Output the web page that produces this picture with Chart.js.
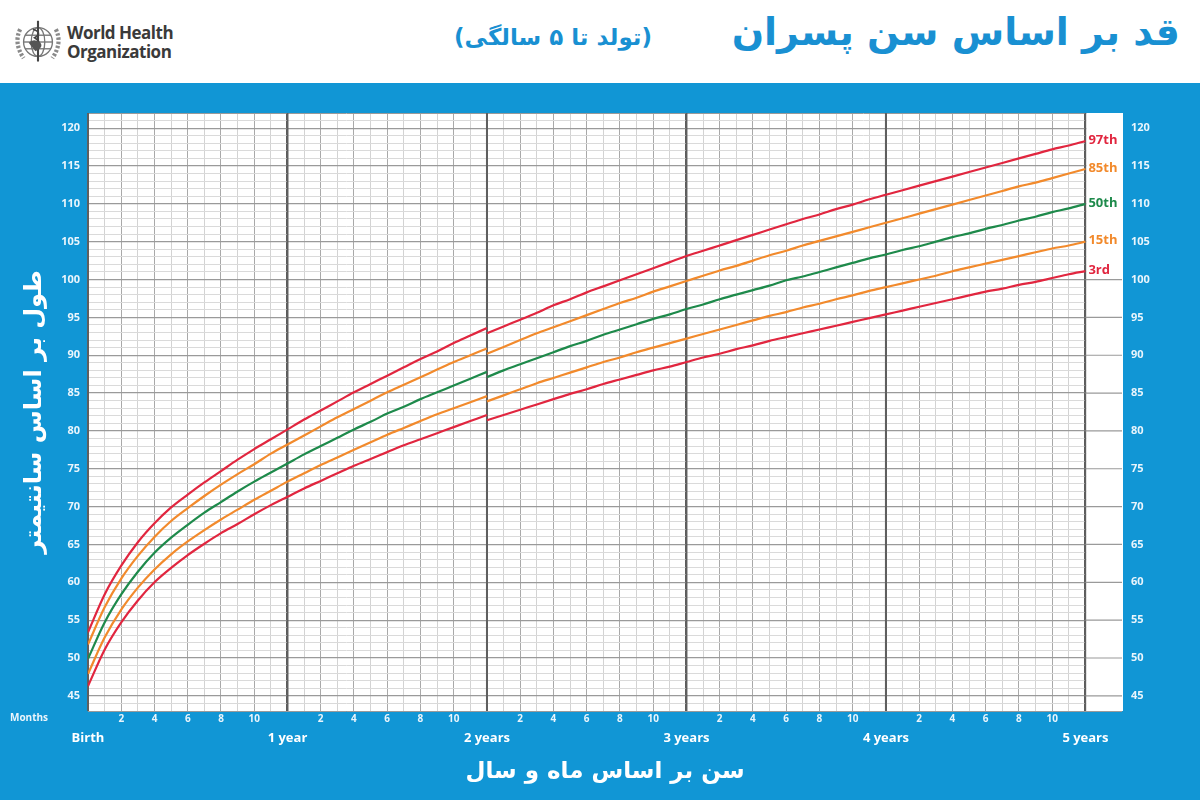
<!DOCTYPE html>
<html>
<head>
<meta charset="utf-8">
<script src="https://cdn.jsdelivr.net/npm/chart.js@4/dist/chart.umd.min.js"></script>
<style>
    html, body { margin: 0; padding: 0; }
    body { width: 1200px; height: 800px; overflow: hidden; background: #fff; }
    .header { position: relative; height: 83px; background: #fff; }
    .logo { position: absolute; left: 10px; top: 15px; }
    .who-name { position: absolute; left: 67px; top: 23px; font: bold 17px/19px 'Open Sans', sans-serif; color: #3a3a3a; letter-spacing: -0.5px; }
    .title { position: absolute; right: 20px; top: 10px; direction: rtl; font: bold 38px 'DejaVu Sans', sans-serif; color: #1990d2; }
    .subtitle { position: absolute; right: 548px; top: 24px; direction: rtl; font: bold 23px 'DejaVu Sans', sans-serif; color: #1990d2; }
    .panel { height: 717px; background: #1196d5; }
    canvas { display: block; }
</style>
</head>
<body>
<div class="header">
    <svg class="logo" width="56" height="54" viewBox="0 0 66 58">
        <g fill="none" stroke="#777" stroke-width="1.6">
            <circle cx="33" cy="29" r="17"/>
            <ellipse cx="33" cy="29" rx="8" ry="17"/>
            <line x1="16" y1="29" x2="50" y2="29"/>
            <line x1="18" y1="21" x2="48" y2="21"/>
            <line x1="18" y1="37" x2="48" y2="37"/>
            <path d="M12 14 Q4 30 16 48" stroke-width="5" stroke="#8a8a8a" stroke-dasharray="3 2"/>
            <path d="M54 14 Q62 30 50 48" stroke-width="5" stroke="#8a8a8a" stroke-dasharray="3 2"/>
        </g>
        <line x1="33" y1="4" x2="33" y2="52" stroke="#444" stroke-width="2.5"/>
        <path d="M27 14 Q39 18 29 24 Q39 30 29 36" fill="none" stroke="#444" stroke-width="2"/>
        <path d="M22 30 Q28 24 36 30 Q40 36 30 40 Z" fill="#555"/>
    </svg>
    <div class="who-name">World Health<br>Organization</div>
    <div class="subtitle">(تولد تا ۵ سالگی)</div>
    <div class="title">قد بر اساس سن پسران</div>
</div>
<div class="panel">
    <canvas id="growthChart" width="1200" height="717"></canvas>
</div>

<script>
// Ages (months)
const monthsLength = [0, 1, 2, 3, 4, 5, 6, 7, 8, 9, 10, 11, 12, 13, 14, 15, 16, 17, 18, 19, 20, 21, 22, 23, 24];
const monthsHeight = [24, 25, 26, 27, 28, 29, 30, 31, 32, 33, 34, 35, 36, 37, 38, 39, 40, 41, 42, 43, 44, 45, 46, 47, 48, 49, 50, 51, 52, 53, 54, 55, 56, 57, 58, 59, 60];

// Percentile curves, birth to 2 years (cm)
const p3Length = [46.3, 51.1, 54.7, 57.6, 60.0, 61.9, 63.6, 65.1, 66.5, 67.7, 69.0, 70.2, 71.3, 72.4, 73.4, 74.4, 75.4, 76.3, 77.2, 78.1, 78.9, 79.7, 80.5, 81.3, 82.1];
const p15Length = [47.9, 52.7, 56.4, 59.3, 61.7, 63.7, 65.4, 66.9, 68.3, 69.6, 70.9, 72.1, 73.3, 74.4, 75.5, 76.5, 77.5, 78.5, 79.5, 80.4, 81.3, 82.2, 83.0, 83.8, 84.6];
const p50Length = [49.9, 54.7, 58.4, 61.4, 63.9, 65.9, 67.6, 69.2, 70.6, 72.0, 73.3, 74.5, 75.7, 76.9, 78.0, 79.1, 80.2, 81.2, 82.3, 83.2, 84.2, 85.1, 86.0, 86.9, 87.8];
const p85Length = [51.8, 56.7, 60.5, 63.5, 66.0, 68.1, 69.8, 71.4, 72.9, 74.3, 75.6, 77.0, 78.2, 79.4, 80.6, 81.8, 82.9, 84.0, 85.1, 86.1, 87.1, 88.1, 89.1, 90.0, 90.9];
const p97Length = [53.4, 58.4, 62.2, 65.3, 67.8, 69.9, 71.6, 73.2, 74.7, 76.2, 77.6, 78.9, 80.2, 81.5, 82.7, 83.9, 85.1, 86.2, 87.3, 88.4, 89.5, 90.5, 91.6, 92.6, 93.6];

// Percentile curves, 2 to 5 years (cm)
const p3Height = [81.4, 82.1, 82.8, 83.5, 84.2, 84.9, 85.5, 86.2, 86.8, 87.4, 88.0, 88.5, 89.1, 89.7, 90.2, 90.8, 91.3, 91.9, 92.4, 92.9, 93.4, 93.9, 94.4, 94.9, 95.4, 95.9, 96.4, 96.9, 97.4, 97.9, 98.4, 98.8, 99.3, 99.7, 100.2, 100.7, 101.1];
const p15Height = [83.9, 84.7, 85.5, 86.3, 87.0, 87.7, 88.4, 89.1, 89.7, 90.4, 91.0, 91.6, 92.2, 92.8, 93.4, 94.0, 94.6, 95.2, 95.7, 96.3, 96.8, 97.4, 97.9, 98.5, 99.0, 99.5, 100.0, 100.5, 101.1, 101.6, 102.1, 102.6, 103.1, 103.6, 104.1, 104.5, 105.0];
const p50Height = [87.1, 88.0, 88.8, 89.6, 90.4, 91.2, 91.9, 92.7, 93.4, 94.1, 94.8, 95.4, 96.1, 96.7, 97.4, 98.0, 98.6, 99.2, 99.9, 100.4, 101.0, 101.6, 102.2, 102.8, 103.3, 103.9, 104.4, 105.0, 105.6, 106.1, 106.7, 107.2, 107.8, 108.3, 108.9, 109.4, 110.0];
const p85Height = [90.2, 91.1, 92.0, 92.9, 93.7, 94.5, 95.3, 96.1, 96.9, 97.6, 98.4, 99.1, 99.8, 100.5, 101.2, 101.8, 102.5, 103.2, 103.8, 104.5, 105.1, 105.7, 106.3, 106.9, 107.5, 108.1, 108.7, 109.3, 109.9, 110.5, 111.1, 111.7, 112.3, 112.8, 113.4, 114.0, 114.6];
const p97Height = [92.9, 93.8, 94.7, 95.6, 96.6, 97.4, 98.3, 99.1, 99.9, 100.7, 101.5, 102.3, 103.1, 103.8, 104.5, 105.2, 105.9, 106.6, 107.3, 108.0, 108.6, 109.3, 109.9, 110.6, 111.2, 111.8, 112.4, 113.0, 113.6, 114.2, 114.8, 115.4, 116.0, 116.6, 117.2, 117.7, 118.3];

// Labels
const percentileNames = ['97th', '85th', '50th', '15th', '3rd'];
const percentileColors = ['#e1263f', '#f28a2c', '#1e8a4b', '#f28a2c', '#e1263f'];
const yearTicks = [0, 12, 24, 36, 48, 60];
const yearLabels = ['Birth', '1 year', '2 years', '3 years', '4 years', '5 years'];
const yTitle = 'طول بر اساس سانتیمتر';
const xTitle = 'سن بر اساس ماه و سال';

const lengthSeries = [p97Length, p85Length, p50Length, p15Length, p3Length];
const heightSeries = [p97Height, p85Height, p50Height, p15Height, p3Height];

const X_MIN = 0, X_GRID_MAX = 60, X_MAX = 62.2;
const Y_MIN = 43, Y_MAX = 122;

function toPoints(xs, ys) {
    return xs.map((x, i) => ({ x: x, y: ys[i] }));
}

const datasets = [];
percentileNames.forEach((name, i) => {
    [toPoints(monthsLength, lengthSeries[i]), toPoints(monthsHeight, heightSeries[i])].forEach(points => {
        datasets.push({
            label: name,
            data: points,
            borderColor: percentileColors[i],
            borderWidth: 2.2,
            pointRadius: 0,
            cubicInterpolationMode: 'monotone',
            fill: false
        });
    });
});

// white plot paper, year lines, white label column, percentile names, "Months"
const decorations = {
    id: 'decorations',
    beforeDraw(chart) {
        const { ctx, chartArea } = chart;
        ctx.save();
        ctx.fillStyle = '#fff';
        ctx.fillRect(chartArea.left, chartArea.top, chartArea.right - chartArea.left, chartArea.bottom - chartArea.top);
        ctx.restore();
    },
    beforeDatasetsDraw(chart) {
        const { ctx, chartArea, scales } = chart;
        const x60 = scales.x.getPixelForValue(X_GRID_MAX);
        ctx.save();
        // year lines on top of the fine grid
        ctx.strokeStyle = '#5f5f5f';
        ctx.lineWidth = 2;
        yearTicks.forEach(v => {
            const x = scales.x.getPixelForValue(v);
            ctx.beginPath();
            ctx.moveTo(x, chartArea.top);
            ctx.lineTo(x, chartArea.bottom);
            ctx.stroke();
        });
        ctx.fillStyle = '#fff';
        ctx.fillRect(x60 + 1, chartArea.top, chartArea.right - x60, chartArea.bottom - chartArea.top);
        ctx.strokeStyle = '#9a9a9a';
        ctx.lineWidth = 1.2;
        for (let v = 45; v <= 100; v += 5) {
            const y = scales.y.getPixelForValue(v);
            ctx.beginPath();
            ctx.moveTo(x60, y);
            ctx.lineTo(chartArea.right, y);
            ctx.stroke();
        }
        ctx.restore();
    },
    afterDraw(chart) {
        const { ctx, scales, chartArea } = chart;
        ctx.save();
        ctx.font = 'bold 13px "Open Sans", sans-serif';
        ctx.textBaseline = 'middle';
        ctx.textAlign = 'left';
        percentileNames.forEach((name, i) => {
            const ys = heightSeries[i];
            const last = ys[ys.length - 1];
            ctx.fillStyle = percentileColors[i];
            ctx.fillText(name, scales.x.getPixelForValue(X_GRID_MAX) + 3, scales.y.getPixelForValue(last) - 1);
        });
        ctx.fillStyle = '#eaf5fc';
        ctx.font = 'bold 10px "Open Sans", sans-serif';
        ctx.fillText('Months', 10, chartArea.bottom + 7);
        ctx.restore();
    }
};

function gridColorX(c) {
    const v = c.tick.value;
    if (v % 12 === 0) return '#5a5a5a';
    if (v % 2 === 0) return '#a9a9a9';
    return '#d3d3d3';
}

new Chart(document.getElementById('growthChart'), {
    type: 'line',
    data: { datasets: datasets },
    plugins: [decorations],
    options: {
        responsive: false,
        animation: false,
        layout: { padding: { top: 30, left: 0, right: 0, bottom: 0 } },
        plugins: { legend: { display: false }, tooltip: { enabled: false } },
        scales: {
            x: {
                type: 'linear',
                position: 'bottom',
                min: X_MIN,
                max: X_MAX,
                afterBuildTicks: scale => {
                    const t = [];
                    for (let m = X_MIN; m <= X_GRID_MAX; m++) t.push({ value: m });
                    scale.ticks = t;
                },
                afterFit: scale => { scale.height = 16; },
                border: { display: false },
                grid: {
                    drawTicks: false,
                    color: gridColorX,
                    lineWidth: c => (c.tick.value % 12 === 0 ? 2 : 1)
                },
                ticks: {
                    autoSkip: false,
                    maxRotation: 0,
                    padding: 2,
                    color: '#eaf5fc',
                    font: { family: 'Open Sans', size: 10, weight: 'bold' },
                    callback: v => (v % 12 === 0 || v % 2 !== 0 ? '' : String(v % 12))
                }
            },
            x2: {
                type: 'linear',
                position: 'bottom',
                min: X_MIN,
                max: X_MAX,
                afterBuildTicks: scale => {
                    scale.ticks = yearTicks.map(v => ({ value: v }));
                },
                afterFit: scale => { scale.height = 73; },
                border: { display: false },
                grid: { display: false, drawTicks: false },
                ticks: {
                    autoSkip: false,
                    maxRotation: 0,
                    padding: 3,
                    color: '#ffffff',
                    font: { family: 'Open Sans', size: 13, weight: 'bold' },
                    callback: v => yearLabels[yearTicks.indexOf(v)]
                },
                title: {
                    display: true,
                    text: xTitle,
                    color: '#ffffff',
                    font: { family: 'DejaVu Sans', size: 23, weight: 'bold' },
                    padding: { top: 0, bottom: 14 },
                    align: 'center'
                }
            },
            y: {
                type: 'linear',
                position: 'left',
                min: Y_MIN,
                max: Y_MAX,
                afterBuildTicks: scale => {
                    const t = [];
                    for (let v = Y_MIN; v <= Y_MAX; v++) t.push({ value: v });
                    scale.ticks = t;
                },
                afterFit: scale => { scale.width = 88; },
                border: { display: false },
                grid: {
                    drawTicks: false,
                    color: c => (c.tick.value % 5 === 0 || c.tick.value === Y_MIN || c.tick.value === Y_MAX ? '#9a9a9a' : '#dadada'),
                    lineWidth: c => (c.tick.value % 5 === 0 ? 1.2 : 1)
                },
                ticks: {
                    autoSkip: false,
                    padding: 8,
                    color: '#eaf5fc',
                    font: { family: 'Open Sans', size: 11, weight: 'bold' },
                    callback: v => (v % 5 === 0 && v >= 45 && v <= 120 ? String(v) : '')
                },
                title: {
                    display: true,
                    text: yTitle,
                    color: '#ffffff',
                    font: { family: 'DejaVu Sans', size: 24, weight: 'bold' },
                    padding: { top: 20, bottom: 0 }
                }
            },
            y2: {
                type: 'linear',
                position: 'right',
                min: Y_MIN,
                max: Y_MAX,
                afterBuildTicks: scale => {
                    const t = [];
                    for (let v = 45; v <= 120; v += 5) t.push({ value: v });
                    scale.ticks = t;
                },
                afterFit: scale => { scale.width = 78; },
                border: { display: false },
                grid: { display: false, drawTicks: false },
                ticks: {
                    autoSkip: false,
                    padding: 9,
                    color: '#eaf5fc',
                    font: { family: 'Open Sans', size: 11, weight: 'bold' }
                }
            }
        }
    }
});
</script>
</body>
</html>
